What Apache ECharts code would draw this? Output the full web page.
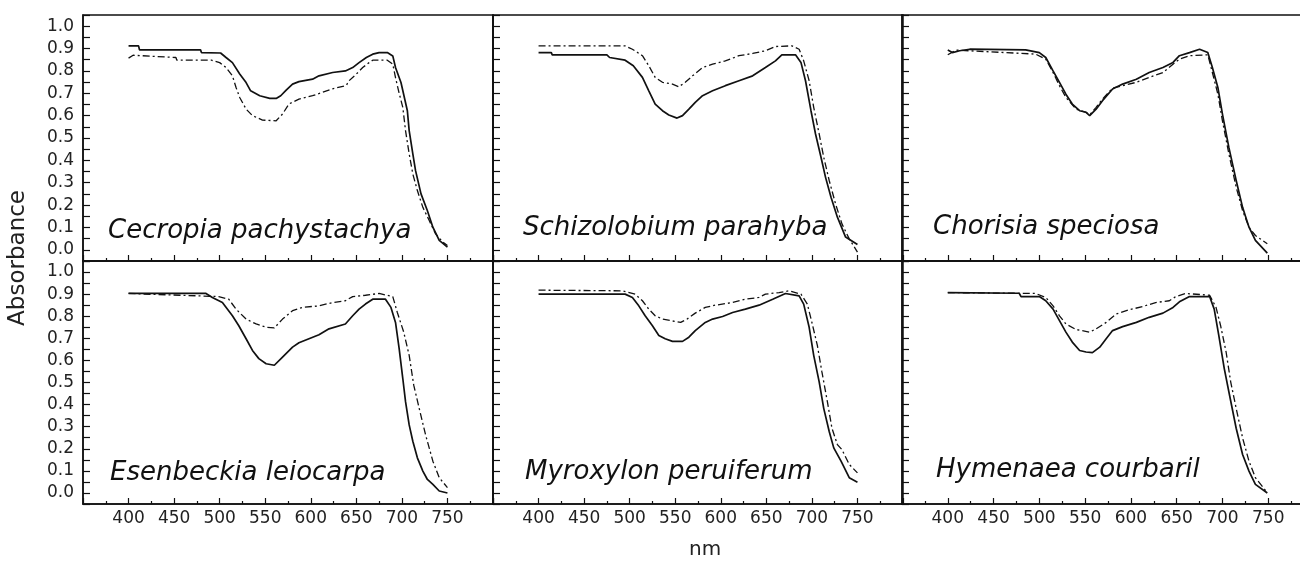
<!DOCTYPE html>
<html>
<head>
<meta charset="utf-8">
<script src="https://cdn.jsdelivr.net/npm/echarts@6/dist/echarts.min.js"></script>
<style>
  html, body { margin: 0; padding: 0; background: #fff; }
  #chart { width: 1300px; height: 561px; }
</style>
</head>
<body>
<div id="chart"></div>
<script>
// species shown in each panel (row by row)
const speciesNames = [
  'Cecropia pachystachya', 'Schizolobium parahyba', 'Chorisia speciosa',
  'Esenbeckia leiocarpa', 'Myroxylon peruiferum', 'Hymenaea courbaril'
];

// [nm, absorbance]; solid line and dash-dot line per panel
const cecropiaSolid = [[400,0.912],[411,0.912],[412,0.894],[479,0.894],[480,0.882],[501,0.88],[507,0.86],[514,0.837],[522,0.786],[529,0.748],[534,0.711],[544,0.689],[555,0.677],[562,0.677],[567,0.689],[573,0.714],[580,0.741],[587,0.752],[602,0.763],[609,0.778],[624,0.793],[638,0.80],[646,0.815],[653,0.837],[661,0.86],[668,0.875],[675,0.882],[684,0.882],[690,0.867],[693,0.815],[699,0.748],[706,0.622],[708,0.533],[712,0.429],[715,0.354],[721,0.25],[728,0.175],[734,0.101],[741,0.042],[750,0.012]];
const cecropiaDash = [[400,0.857],[405,0.870],[452,0.86],[453,0.848],[491,0.848],[500,0.837],[507,0.815],[514,0.778],[518,0.726],[522,0.681],[529,0.629],[536,0.60],[547,0.58],[562,0.577],[569,0.607],[576,0.652],[587,0.674],[602,0.689],[624,0.72],[639,0.735],[642,0.756],[650,0.786],[657,0.815],[664,0.837],[668,0.848],[684,0.848],[690,0.83],[693,0.77],[697,0.70],[701,0.637],[704,0.533],[708,0.429],[712,0.339],[717,0.265],[723,0.19],[730,0.131],[737,0.071],[745,0.034],[750,0.019]];

const schizoSolid = [[400,0.882],[414,0.882],[415,0.872],[475,0.872],[478,0.86],[495,0.848],[504,0.823],[514,0.771],[521,0.711],[528,0.652],[536,0.622],[543,0.603],[552,0.589],[558,0.60],[565,0.629],[572,0.659],[580,0.689],[591,0.711],[605,0.734],[620,0.756],[635,0.778],[649,0.815],[660,0.845],[667,0.872],[682,0.872],[688,0.838],[693,0.756],[699,0.622],[704,0.518],[710,0.414],[715,0.324],[721,0.235],[728,0.146],[737,0.057],[750,0.024]];
const schizoDash = [[400,0.912],[495,0.912],[503,0.897],[514,0.868],[521,0.823],[528,0.771],[536,0.749],[547,0.741],[554,0.729],[561,0.749],[569,0.778],[580,0.815],[591,0.830],[605,0.845],[620,0.868],[635,0.878],[649,0.89],[660,0.909],[678,0.912],[686,0.897],[691,0.845],[697,0.756],[702,0.637],[708,0.518],[713,0.414],[719,0.31],[726,0.205],[733,0.116],[741,0.049],[750,-0.01]];

const chorisiaSolid = [[400,0.893],[405,0.882],[413,0.89],[424,0.897],[485,0.894],[500,0.882],[507,0.86],[515,0.80],[522,0.749],[529,0.696],[536,0.652],[544,0.622],[551,0.615],[555,0.60],[562,0.629],[569,0.667],[580,0.719],[591,0.741],[606,0.763],[620,0.793],[635,0.815],[646,0.838],[653,0.868],[664,0.882],[675,0.897],[684,0.882],[689,0.815],[695,0.726],[700,0.607],[707,0.458],[715,0.31],[722,0.19],[729,0.101],[736,0.042],[749,-0.015]];
const chorisiaDash = [[400,0.872],[409,0.893],[496,0.875],[507,0.853],[515,0.793],[522,0.734],[529,0.682],[540,0.629],[551,0.615],[555,0.604],[562,0.637],[569,0.674],[580,0.723],[591,0.734],[606,0.749],[620,0.771],[635,0.793],[646,0.83],[653,0.853],[664,0.868],[684,0.872],[689,0.793],[695,0.696],[700,0.577],[707,0.429],[715,0.28],[722,0.176],[729,0.101],[736,0.064],[749,0.027]];

const esenSolid = [[400,0.903],[485,0.903],[492,0.885],[503,0.862],[514,0.802],[521,0.757],[529,0.698],[536,0.645],[543,0.608],[551,0.585],[560,0.578],[569,0.615],[580,0.66],[587,0.68],[598,0.698],[609,0.716],[620,0.743],[638,0.765],[646,0.802],[653,0.832],[660,0.855],[668,0.877],[682,0.877],[688,0.84],[693,0.772],[697,0.653],[701,0.518],[704,0.413],[708,0.308],[712,0.234],[717,0.159],[723,0.099],[728,0.061],[734,0.039],[741,0.009],[750,0.0]];
const esenDash = [[400,0.903],[499,0.889],[510,0.877],[518,0.832],[529,0.787],[540,0.765],[551,0.75],[560,0.747],[569,0.787],[580,0.825],[591,0.84],[609,0.847],[624,0.862],[638,0.87],[646,0.889],[660,0.895],[675,0.903],[690,0.889],[695,0.817],[702,0.728],[708,0.623],[713,0.488],[719,0.383],[726,0.263],[734,0.144],[741,0.069],[750,0.024]];

const myroxSolid = [[400,0.90],[495,0.90],[503,0.885],[510,0.847],[517,0.802],[525,0.757],[532,0.713],[539,0.698],[547,0.686],[558,0.686],[565,0.705],[572,0.735],[583,0.772],[591,0.787],[602,0.799],[613,0.817],[627,0.832],[642,0.85],[657,0.877],[671,0.903],[686,0.892],[691,0.855],[697,0.75],[702,0.623],[708,0.503],[713,0.383],[719,0.278],[724,0.204],[732,0.144],[741,0.069],[750,0.049]];
const myroxDash = [[400,0.918],[492,0.915],[506,0.90],[514,0.87],[521,0.832],[528,0.802],[536,0.787],[545,0.78],[556,0.772],[563,0.787],[572,0.814],[583,0.84],[594,0.85],[613,0.862],[627,0.877],[642,0.885],[649,0.90],[664,0.907],[675,0.915],[688,0.90],[695,0.855],[700,0.772],[706,0.668],[711,0.548],[717,0.413],[722,0.293],[728,0.219],[733,0.196],[741,0.129],[750,0.091]];

const hymenSolid = [[400,0.907],[478,0.904],[480,0.889],[500,0.889],[507,0.87],[515,0.832],[522,0.78],[529,0.728],[536,0.683],[544,0.645],[551,0.638],[558,0.635],[566,0.66],[573,0.698],[580,0.735],[591,0.753],[606,0.772],[620,0.795],[635,0.814],[646,0.84],[653,0.865],[664,0.889],[686,0.889],[691,0.832],[696,0.713],[702,0.563],[707,0.458],[715,0.293],[722,0.174],[729,0.099],[736,0.039],[749,0.0]];
const hymenDash = [[400,0.907],[496,0.903],[507,0.885],[515,0.847],[522,0.802],[529,0.765],[540,0.74],[555,0.728],[562,0.743],[573,0.772],[584,0.81],[598,0.829],[613,0.844],[627,0.862],[642,0.87],[649,0.889],[660,0.903],[686,0.895],[693,0.84],[698,0.757],[704,0.638],[709,0.503],[715,0.383],[722,0.249],[729,0.144],[736,0.069],[749,0.001]];

const solidLines = [cecropiaSolid, schizoSolid, chorisiaSolid, esenSolid, myroxSolid, hymenSolid];
const dashLines = [cecropiaDash, schizoDash, chorisiaDash, esenDash, myroxDash, hymenDash];

// panel boxes (the right column runs past the window edge, as in the original)
const panels = [
  { left: 83,  top: 15,  width: 410, height: 246 },
  { left: 493, top: 15,  width: 410, height: 246 },
  { left: 902, top: 15,  width: 412, height: 246 },
  { left: 83,  top: 261, width: 410, height: 243 },
  { left: 493, top: 261, width: 410, height: 243 },
  { left: 902, top: 261, width: 412, height: 243 }
];
const labelPos = [
  { x: 108, y: 232 }, { x: 523, y: 229 }, { x: 933, y: 228 },
  { x: 110, y: 474 }, { x: 525, y: 473 }, { x: 936, y: 471 }
];

const FONT = '"DejaVu Sans", Arial, sans-serif';
const INK = '#111';

const chart = echarts.init(document.getElementById('chart'));

const grid = [], xAxis = [], yAxis = [], series = [], graphic = [];
panels.forEach((p, i) => {
  const bottomRow = i >= 3;
  const leftCol = i % 3 === 0;
  grid.push({
    left: p.left, top: p.top, width: p.width, height: p.height,
    outerBoundsMode: 'none',
    show: true, borderColor: INK, borderWidth: 1.5, backgroundColor: 'transparent'
  });
  xAxis.push({
    type: 'value', gridIndex: i, min: 350, max: 800, interval: 50,
    axisLine: { show: true, onZero: false, lineStyle: { color: INK, width: 1.5 } },
    axisTick: { show: true, inside: true, length: 6, lineStyle: { color: INK, width: 1.2 } },
    minorTick: { show: true, splitNumber: 2, length: 3, lineStyle: { color: INK, width: 1.2 } },
    splitLine: { show: false },
    axisLabel: {
      show: bottomRow, margin: 6, color: '#222', fontSize: 17, fontFamily: FONT,
      formatter: v => (v < 400 || v > 750) ? '' : String(v)
    }
  });
  yAxis.push({
    type: 'value', gridIndex: i, min: -0.05, max: 1.05, interval: 0.05,
    axisLine: { show: true, onZero: false, lineStyle: { color: INK, width: 1.5 } },
    axisTick: { show: true, inside: true, length: 7, lineStyle: { color: INK, width: 1.2 } },
    splitLine: { show: false },
    axisLabel: {
      show: leftCol, margin: 9, color: '#222', fontSize: 17, fontFamily: FONT,
      formatter: v => {
        const k = Math.round(v * 20);
        return (k % 2 === 0 && k >= 0 && k <= 20) ? (k / 20).toFixed(1) : '';
      }
    }
  });
  series.push({
    type: 'line', xAxisIndex: i, yAxisIndex: i, data: dashLines[i],
    showSymbol: false, silent: true, clip: false,
    lineStyle: { color: INK, width: 1.3, type: [7, 3, 2, 3] }
  });
  series.push({
    type: 'line', xAxisIndex: i, yAxisIndex: i, data: solidLines[i],
    showSymbol: false, silent: true, clip: false,
    lineStyle: { color: INK, width: 1.7 }
  });
  graphic.push({
    type: 'text', left: labelPos[i].x, top: labelPos[i].y - 14,
    style: { text: speciesNames[i], fill: '#111', font: 'italic 26px ' + FONT }
  });
});

graphic.push({
  type: 'text', left: 7, top: 190, rotation: Math.PI / 2,
  style: { text: 'Absorbance', fill: '#222', font: '23px ' + FONT }
});
graphic.push({
  type: 'text', left: 689, top: 540,
  style: { text: 'nm', fill: '#222', font: '20px ' + FONT }
});

chart.setOption({
  animation: false,
  backgroundColor: '#fff',
  grid, xAxis, yAxis, series, graphic
});
</script>
</body>
</html>
